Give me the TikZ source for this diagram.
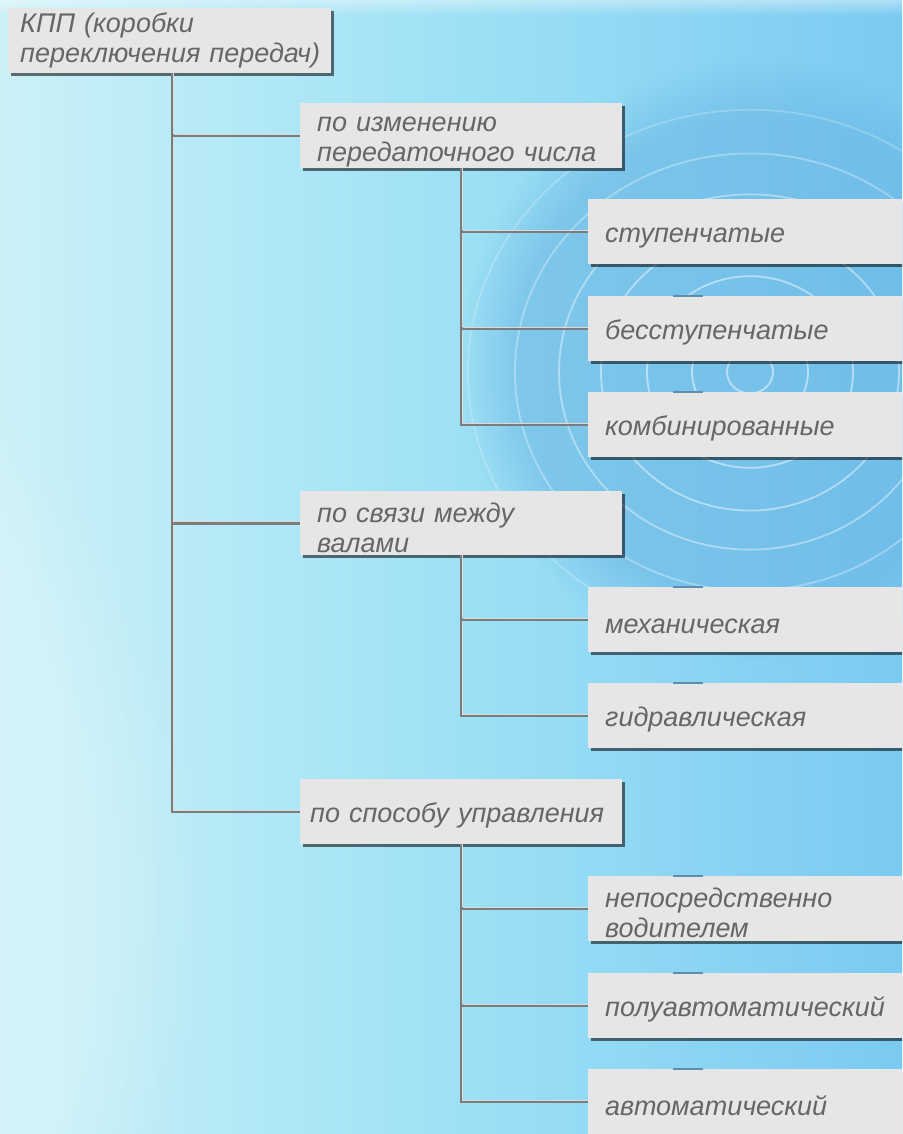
\documentclass[tikz,border=0pt]{standalone}
\usepackage{fontspec}
\setmainfont{Liberation Sans}
\usetikzlibrary{shadows,calc,fadings}
\definecolor{boxfill}{HTML}{E6E6E6}
\definecolor{txt}{HTML}{666666}
\definecolor{ln}{HTML}{7C7C7C}
\definecolor{lnhi}{HTML}{DADADA}
\definecolor{bgL}{HTML}{CBF1F7}
\definecolor{bgM}{HTML}{9EE1F5}
\definecolor{bgR}{HTML}{7ACAF1}
\definecolor{bgD}{HTML}{66B2E2}
\definecolor{tabc}{HTML}{5E8DB0}
\begin{document}
\begin{tikzpicture}[x=1pt,y=-1pt,
  bx/.style={fill=boxfill, anchor=north west, inner xsep=17pt, inner ysep=0pt,
    text=txt, font=\fontsize{27}{30}\selectfont\itshape, align=left,
    text width=#1, minimum height=65pt,
    drop shadow={shadow xshift=2.5pt, shadow yshift=-2.5pt, fill=black, opacity=0.55}},
  bx/.default=288pt,
  lowered/.style={execute at begin node={\rule{0pt}{28pt}}},
  mid/.style={bx, lowered},
  leaf/.style={bx=300pt, lowered},
  conn/.style={draw=ln, line width=2.8pt,
    postaction={draw=lnhi, line width=1pt, transform canvas={shift={(1.4pt,1.4pt)}}}},
  tab/.style={draw=tabc, line width=2pt},
  ring/.style={draw=white, line width=1.8pt}]
\useasboundingbox (0,0) rectangle (902,1134);
\begin{scope}
\clip (0,0) rectangle (902,1134);
% background
\shade[left color=bgL, right color=bgR, middle color=bgM] (0,0) rectangle (902,1134);
\fill[bgD, path fading=circle with fuzzy edge 20 percent, fill opacity=0.5] (760,360) ellipse (300 and 300);
\fill[white, path fading=circle with fuzzy edge 20 percent, fill opacity=0.2] (-350,900) ellipse (560 and 640);
\fill[white, path fading=south, fill opacity=0.4] (0,0) rectangle (902,16);
\foreach \r/\o in {23/0.5,58/0.5,103/0.47,149/0.45,191/0.4,235/0.32,282/0.22}
  \draw[ring, opacity=\o] (750,372) ellipse ({\r} and {0.93*\r});

% boxes
\node[bx=299pt, inner xsep=12pt] (root) at (8,8) {КПП (коробки\\\mbox{переключения передач)}};
\node[mid] (a) at (300,103) {по изменению\\передаточного числа};
\node[leaf] (a1) at (588,199) {ступенчатые};
\node[leaf] (a2) at (588,296) {бесступенчатые};
\node[leaf] (a3) at (588,392) {комбинированные};
\node[mid, minimum height=64pt] (b) at (300,491) {по связи между\\валами};
\node[leaf] (b1) at (588,587) {механическая};
\node[leaf] (b2) at (588,683) {гидравлическая};
\node[mid, inner xsep=10pt, text width=302pt] (c) at (300,779) {по способу управления};
\node[leaf] (c1) at (588,876) {непосредственно\\водителем};
\node[leaf] (c2) at (588,973) {полуавтоматический};
\node[leaf] (c3) at (588,1069) {автоматический};

% small tabs on top edges
\foreach \n in {a2,a3,b1,b2,c1,c2,c3}
  \draw[tab] ([xshift=85pt]\n.north west) -- ++(30,0);

% connectors
\coordinate (t) at ([xshift=2.5pt]root.south);
\draw[conn] (t) |- (c.west);
\draw[conn] (a.west -| t) -- (a.west);
\draw[conn] (b.west -| t) -- (b.west);
\draw[conn] (a.south) |- (a3.west);
\draw[conn] (a1.west -| a.south) -- (a1.west);
\draw[conn] (a2.west -| a.south) -- (a2.west);
\draw[conn] (b.south) |- (b2.west);
\draw[conn] (b1.west -| b.south) -- (b1.west);
\draw[conn] (c.south) |- (c3.west);
\draw[conn] (c1.west -| c.south) -- (c1.west);
\draw[conn] (c2.west -| c.south) -- (c2.west);
\end{scope}
\end{tikzpicture}
\end{document}
